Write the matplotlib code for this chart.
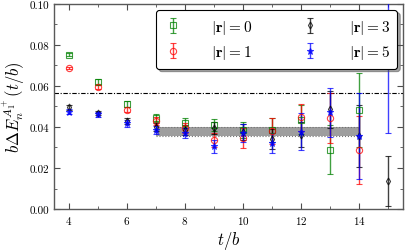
import matplotlib
matplotlib.use('Agg')
import matplotlib.pyplot as plt
from matplotlib.ticker import MultipleLocator
import numpy as np

plt.rcParams['font.family'] = 'serif'
plt.rcParams['font.serif'] = ['cmr10', 'DejaVu Serif']
plt.rcParams['mathtext.fontset'] = 'cm'
plt.rcParams['axes.formatter.use_mathtext'] = True

# ── data ─────────────────────────────────────────────────────────────────
t_r0 = [4, 5, 6, 7, 8, 9, 10, 11, 12, 13, 14]
e_r0 = [0.0752, 0.0620, 0.0510, 0.0442, 0.0419, 0.0409, 0.0385, 0.0386, 0.0435, 0.0289, 0.0484]
d_r0 = [0.0008, 0.0012, 0.0015, 0.0020, 0.0025, 0.0030, 0.0040, 0.0060, 0.0070, 0.0120, 0.0180]

t_r1 = [4, 5, 6, 7, 8, 9, 10, 11, 12, 13, 14]
e_r1 = [0.0687, 0.0593, 0.0484, 0.0429, 0.0395, 0.0338, 0.0346, 0.0381, 0.0447, 0.0443, 0.0287]
d_r1 = [0.0006, 0.0009, 0.0012, 0.0018, 0.0025, 0.0035, 0.0050, 0.0065, 0.0065, 0.0120, 0.0165]

t_r3 = [4, 5, 6, 7, 8, 9, 10, 11, 12, 13, 14, 15]
e_r3 = [0.0495, 0.0468, 0.0429, 0.0398, 0.0385, 0.0395, 0.0375, 0.0341, 0.0362, 0.0487, 0.0357, 0.0138]
d_r3 = [0.0012, 0.0012, 0.0015, 0.0020, 0.0025, 0.0030, 0.0040, 0.0050, 0.0060, 0.0090, 0.0150, 0.0122]

t_r5 = [4, 5, 6, 7, 8, 9, 10, 11, 12, 13, 14, 15]
e_r5 = [0.0474, 0.0461, 0.0417, 0.0386, 0.0370, 0.0305, 0.0370, 0.0321, 0.0377, 0.0471, 0.0357, 0.0750]
d_r5 = [0.0012, 0.0012, 0.0015, 0.0020, 0.0025, 0.0030, 0.0045, 0.0050, 0.0090, 0.0120, 0.0210, 0.0380]

fit_t = [7, 14]
fit_lo = 0.0355
fit_hi = 0.0399
threshold = 0.0565

fig = plt.figure(figsize=(4.07, 2.51), dpi=100)
ax = fig.add_axes([0.1334, 0.163, 0.856, 0.818])

# ── fit band and threshold line ──────────────────────────────────────────
ax.fill_between(fit_t, fit_lo, fit_hi, facecolor='0.62', edgecolor='none',
                zorder=1)
ax.hlines([fit_lo, fit_hi], fit_t[0], fit_t[1], colors='0.45',
          linestyles=':', linewidth=0.8, zorder=1)
ax.axhline(threshold, color='black', linestyle=(0, (4, 1.5, 1, 1.5)),
           linewidth=0.8, zorder=1)

common = dict(linestyle='none', capsize=2.5, elinewidth=1.0, capthick=1.0,
              markersize=4.5, markeredgewidth=0.8, alpha=0.75, zorder=3)

ax.errorbar(t_r0, e_r0, yerr=d_r0, color='green', marker='s',
            markerfacecolor='none', label=r'$|\mathbf{r}|=0$', **common)
ax.errorbar(t_r1, e_r1, yerr=d_r1, color='red', marker='o',
            markerfacecolor='none', label=r'$|\mathbf{r}|=1$', **common)
ax.errorbar(t_r3, e_r3, yerr=d_r3, color='black', marker='d',
            markerfacecolor='none', label=r'$|\mathbf{r}|=3$',
            **{**common, 'markersize': 3.5})
ax.errorbar(t_r5, e_r5, yerr=d_r5, color='blue', marker='*',
            label=r'$|\mathbf{r}|=5$', **common)

ax.set_xlim(3.5, 15.5)
ax.set_ylim(0.0, 0.10)
ax.xaxis.set_major_locator(MultipleLocator(2))
ax.xaxis.set_minor_locator(MultipleLocator(1))
ax.yaxis.set_major_locator(MultipleLocator(0.02))
ax.yaxis.set_minor_locator(MultipleLocator(0.01))
ax.yaxis.set_major_formatter(plt.FuncFormatter(lambda v, p: f'{v:.2f}'))
ax.tick_params(which='both', direction='in', top=True, right=True,
               labelsize=8, colors='0.3', labelcolor='black')
ax.tick_params(which='major', length=4)
ax.tick_params(which='minor', length=2.5)
for s in ax.spines.values():
    s.set_color('0.35')
    s.set_linewidth(1.0)

ax.set_xlabel(r'$t/b$', fontsize=12, labelpad=2)
ax.set_ylabel(r'$b\Delta E_n^{A_1^+}(t/b)$', fontsize=12, labelpad=2)

leg = ax.legend(loc='upper right', ncol=2, fontsize=11, fancybox=True,
                shadow=True, framealpha=1, edgecolor='black',
                handlelength=1.2, columnspacing=3.2, handletextpad=1.9,
                borderpad=0.5, labelspacing=0.5, borderaxespad=0.0,
                bbox_to_anchor=(0.985, 0.97))
leg.get_frame().set_linewidth(0.8)

plt.savefig('out.png', dpi=100)
